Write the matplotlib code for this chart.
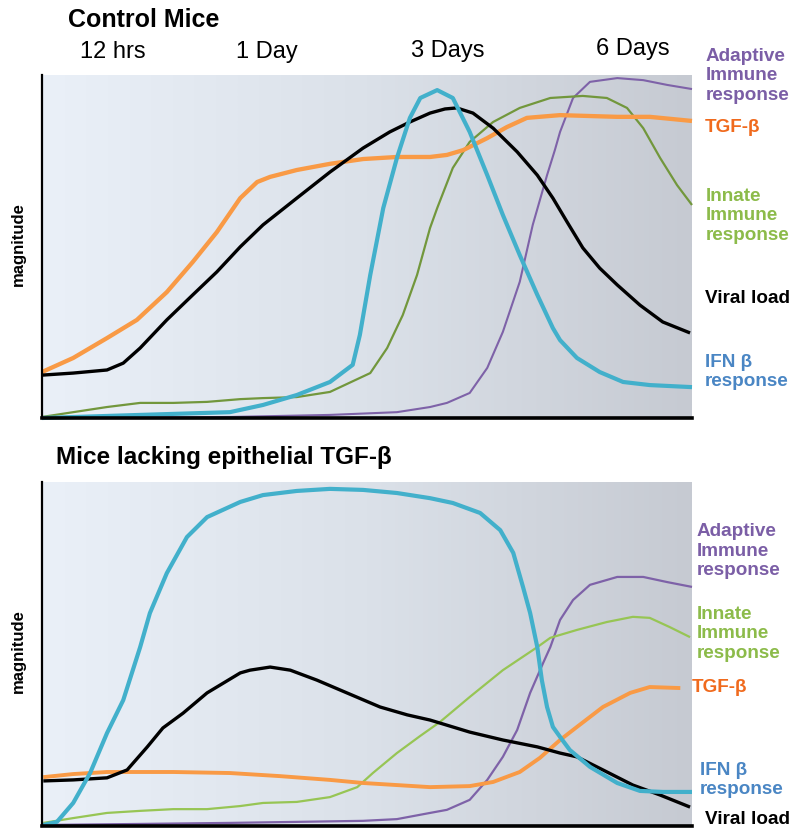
import numpy as np
import matplotlib
matplotlib.use("Agg")
import matplotlib.pyplot as plt
from matplotlib.colors import LinearSegmentedColormap

plt.rcParams['font.family'] = ['Liberation Sans', 'DejaVu Sans']

# ---------------- data (time 0-100, magnitude 0-100) ----------------
time_labels = ["12 hrs", "1 Day", "3 Days", "6 Days"]

# Control mice
ctrl_viral_x = [0, 4.8, 10.0, 12.5, 15.1, 19.2, 23.2, 26.9, 30.5, 34.0, 39.2, 44.3, 49.4, 53.5, 56.6, 59.7, 62.0, 63.8,
                66.3, 69.4, 73.1, 76.2, 78.6, 80.8, 83.2, 85.8, 88.5, 92.0, 95.5, 99.7]
ctrl_viral_y = [12.5, 13.1, 14.0, 16.0, 20.4, 28.6, 35.9, 42.6, 49.9, 56.3, 64.1, 71.7, 78.7, 83.4, 86.3, 88.9, 90.1, 90.4,
                88.9, 84.5, 77.6, 70.8, 64.1, 57.1, 49.6, 43.7, 38.8, 32.9, 28.0, 24.8]

ctrl_tgf_x = [0, 4.8, 10.0, 14.6, 19.2, 23.2, 26.9, 30.5, 33.1, 35.1, 39.2, 44.3, 49.4, 54.6, 59.7, 62.3, 64.8, 68.5,
              71.5, 74.6, 79.7, 88.5, 93.5, 100]
ctrl_tgf_y = [13.4, 17.5, 23.3, 28.6, 36.7, 45.5, 54.2, 64.1, 68.8, 70.3, 72.3, 74.1, 75.5, 76.1, 76.1, 76.7, 78.1, 81.6,
              84.8, 87.5, 88.3, 87.8, 87.8, 86.6]

ctrl_ifn_x = [0, 15.1, 28.9, 34.0, 39.2, 44.3, 47.8, 48.9, 50.5, 52.5, 54.6, 56.6, 58.2, 60.8, 63.2, 65.8, 68.5, 70.9,
              73.5, 76.2, 78.6, 79.7, 82.3, 85.8, 89.4, 93.5, 100]
ctrl_ifn_y = [0, 0.9, 1.7, 3.8, 6.7, 10.5, 15.5, 24.2, 41.7, 61.2, 75.8, 87.5, 93.3, 95.6, 93.3, 83.4, 70.8, 59.2,
              47.5, 35.9, 26.2, 22.7, 17.5, 13.4, 10.5, 9.6, 9.0]

ctrl_innate_x = [0, 4.8, 10.0, 15.1, 20.2, 25.4, 30.5, 34.0, 39.2, 44.3, 50.5, 53.1, 55.5, 57.7, 59.7, 60.8, 63.2, 65.8,
                 69.4, 73.5, 78.2, 83.2, 86.9, 90.0, 92.5, 95.1, 97.7, 100]
ctrl_innate_y = [0.3, 1.7, 3.2, 4.4, 4.4, 4.7, 5.5, 5.8, 6.1, 7.6, 13.1, 20.4, 30.0, 41.7, 55.4, 61.2, 72.9, 80.5,
                 86.3, 90.4, 93.3, 93.9, 93.3, 90.4, 84.5, 75.8, 67.9, 62.1]

ctrl_adapt_x = [0, 28.9, 44.3, 54.6, 59.7, 62.3, 65.8, 68.5, 70.9, 73.5, 75.5, 77.7, 78.9, 79.7, 81.7, 84.3, 88.5, 92.5,
                96.2, 100]
ctrl_adapt_y = [0, 0.3, 0.9, 1.7, 3.2, 4.4, 7.3, 14.6, 25.1, 39.7, 56.3, 70.8, 78.1, 83.4, 93.3, 98.0, 99.1, 98.5,
                97.1, 95.9]

# Mice lacking epithelial TGF-beta
ko_viral_x = [0.2, 4.8, 10.0, 13.1, 16.2, 18.6, 21.7, 25.4, 30.5, 32.0, 35.1, 38.2, 42.3, 46.9, 52.0, 56.2, 59.7, 65.8,
              70.9, 76.2, 79.7, 82.3, 86.3, 90.9, 95.1, 99.7]
ko_viral_y = [13.1, 13.4, 14.0, 16.3, 23.0, 28.5, 32.8, 38.7, 44.5, 45.3, 46.2, 45.3, 42.4, 38.7, 34.6, 32.3, 30.8, 27.3,
              25.0, 23.0, 21.2, 20.1, 16.3, 11.9, 9.0, 5.5]

ko_tgf_x = [0.2, 4.8, 10.0, 20.2, 28.9, 36.6, 44.3, 49.4, 54.6, 59.7, 65.8, 69.4, 73.5, 76.6, 79.7, 82.3, 86.3, 90.5,
            93.5, 98.2]
ko_tgf_y = [14.2, 15.1, 15.7, 15.7, 15.4, 14.5, 13.4, 12.5, 11.9, 11.3, 11.6, 12.8, 15.7, 19.8, 25.0, 28.8, 34.6, 38.7,
            40.4, 40.1]

ko_ifn_x = [0.2, 2.3, 4.8, 7.4, 10.0, 12.5, 15.1, 16.6, 19.2, 22.3, 25.4, 30.5, 34.0, 39.2, 44.3, 49.4, 54.6, 59.7,
            63.2, 67.4, 70.5, 72.5, 74.0, 75.1, 76.2, 76.9, 77.7, 78.6, 79.7, 81.2, 84.3, 88.5, 92.0, 95.5, 100]
ko_ifn_y = [0.3, 1.2, 6.7, 15.4, 27.0, 36.6, 52.0, 61.9, 73.5, 84.0, 89.8, 94.2, 96.2, 97.4, 98.0, 97.7, 96.8, 95.3,
            93.9, 91.0, 86.0, 79.4, 69.5, 61.9, 52.0, 42.4, 34.6, 28.8, 25.9, 22.1, 17.2, 12.5, 10.2, 9.9, 9.9]

ko_innate_x = [0.2, 4.8, 10.0, 15.1, 20.2, 25.4, 30.5, 34.0, 39.2, 44.3, 48.5, 50.9, 54.6, 58.2, 61.2, 65.8, 70.9,
               76.2, 78.2, 82.3, 86.9, 90.9, 93.5, 96.6, 99.7]
ko_innate_y = [0.9, 2.3, 3.8, 4.4, 4.9, 4.9, 5.8, 6.7, 7.0, 8.4, 11.3, 15.4, 21.2, 26.2, 30.2, 37.5, 45.3,
               52.0, 54.7, 57.0, 59.3, 60.8, 60.5, 57.8, 54.9]

ko_adapt_x = [0.2, 15.1, 28.9, 39.2, 49.4, 54.6, 59.7, 62.3, 65.8, 68.5, 70.9, 73.1, 75.1, 77.1, 78.2, 79.7, 81.7,
              84.3, 88.5, 92.5, 96.2, 100]
ko_adapt_y = [0.3, 0.6, 0.9, 1.2, 1.5, 2.0, 3.8, 4.7, 7.6, 13.4, 20.1, 27.9, 38.7, 47.4, 52.0, 59.9, 65.7,
              70.1, 72.4, 72.4, 70.9, 69.5]

# ---------------- styles ----------------
C_ORANGE = "#f99a45"
C_CYAN = "#42b0cb"
C_GREEN_DARK = "#72973c"
C_GREEN_LIGHT = "#97c554"
C_PURPLE = "#7e62a8"
C_BLACK = "#000000"

T_PURPLE = "#7b5ea6"
T_ORANGE = "#f06a1d"
T_GREEN = "#8cbb4a"
T_BLUE = "#4a86c4"

W, H = 800, 840
fig = plt.figure(figsize=(8, 8.4), dpi=100)

grad_cmap = LinearSegmentedColormap.from_list("bg", ["#eaf0f8", "#dbe1e9", "#c6cad2"])


def px_axes(left, top, right, bottom):
    return fig.add_axes([left / W, 1 - bottom / H, (right - left) / W, (bottom - top) / H])


def setup(ax):
    grad = np.linspace(0, 1, 256).reshape(1, -1)
    ax.imshow(grad, extent=[0, 100, 0, 100], aspect='auto', cmap=grad_cmap, zorder=0)
    ax.set_xlim(0, 100)
    ax.set_ylim(0, 100)
    ax.set_xticks([])
    ax.set_yticks([])
    for s in ["top", "right"]:
        ax.spines[s].set_visible(False)
    ax.spines["left"].set_linewidth(1.6)
    ax.spines["bottom"].set_linewidth(2.6)
    ax.spines["left"].set_zorder(5)
    ax.spines["bottom"].set_zorder(5)


def line(ax, x, y, c, lw):
    ax.plot(x, y, color=c, lw=lw, solid_joinstyle='round', solid_capstyle='butt', zorder=3, clip_on=False)


def ftext(px, py, s, **kw):
    fig.text(px / W, 1 - py / H, s, **kw)


# ---------------- top panel ----------------
ax1 = px_axes(42, 75, 692, 418)
setup(ax1)
line(ax1, ctrl_adapt_x, ctrl_adapt_y, C_PURPLE, 1.5)
line(ax1, ctrl_innate_x, ctrl_innate_y, C_GREEN_DARK, 1.6)
line(ax1, ctrl_tgf_x, ctrl_tgf_y, C_ORANGE, 3.1)
line(ax1, ctrl_viral_x, ctrl_viral_y, C_BLACK, 2.4)
line(ax1, ctrl_ifn_x, ctrl_ifn_y, C_CYAN, 3.0)

# ---------------- bottom panel ----------------
ax2 = px_axes(42, 482, 692, 826)
setup(ax2)
line(ax2, ko_adapt_x, ko_adapt_y, C_PURPLE, 1.6)
line(ax2, ko_innate_x, ko_innate_y, C_GREEN_LIGHT, 1.6)
line(ax2, ko_tgf_x, ko_tgf_y, C_ORANGE, 2.8)
line(ax2, ko_viral_x, ko_viral_y, C_BLACK, 2.4)
line(ax2, ko_ifn_x, ko_ifn_y, C_CYAN, 3.0)

# ---------------- texts ----------------
ftext(68, 20, "Control Mice", fontsize=18, fontweight='bold', ha='left', va='center')
ftext(56, 458, "Mice lacking epithelial TGF-β", fontsize=17.5, fontweight='bold', ha='left', va='center')

for lab, cx, cy in zip(time_labels, [113, 267, 448, 633], [52, 52, 51, 49]):
    ftext(cx, cy, lab, fontsize=17, ha='center', va='center')

ftext(18, 244, "magnitude", fontsize=12, fontweight='bold', rotation=90, ha='center', va='center')
ftext(18, 651, "magnitude", fontsize=12, fontweight='bold', rotation=90, ha='center', va='center')

lab_kw = dict(fontsize=13.6, fontweight='bold', ha='left', va='center', linespacing=1.22)
# top labels
ftext(706, 76, "Adaptive\nImmune\nresponse", color=T_PURPLE, **lab_kw)
ftext(705, 127, "TGF-β", color=T_ORANGE, **lab_kw)
ftext(706, 216, "Innate\nImmune\nresponse", color=T_GREEN, **lab_kw)
ftext(705, 298, "Viral load", color=C_BLACK, **lab_kw)
ftext(705, 372, "IFN β\nresponse", color=T_BLUE, **lab_kw)
# bottom labels
ftext(697, 551, "Adaptive\nImmune\nresponse", color=T_PURPLE, **lab_kw)
ftext(697, 634, "Innate\nImmune\nresponse", color=T_GREEN, **lab_kw)
ftext(692, 688, "TGF-β", color=T_ORANGE, **lab_kw)
ftext(700, 780, "IFN β\nresponse", color=T_BLUE, **lab_kw)
ftext(705, 820, "Viral load", color=C_BLACK, **lab_kw)

fig.savefig("out.png", dpi=100)
